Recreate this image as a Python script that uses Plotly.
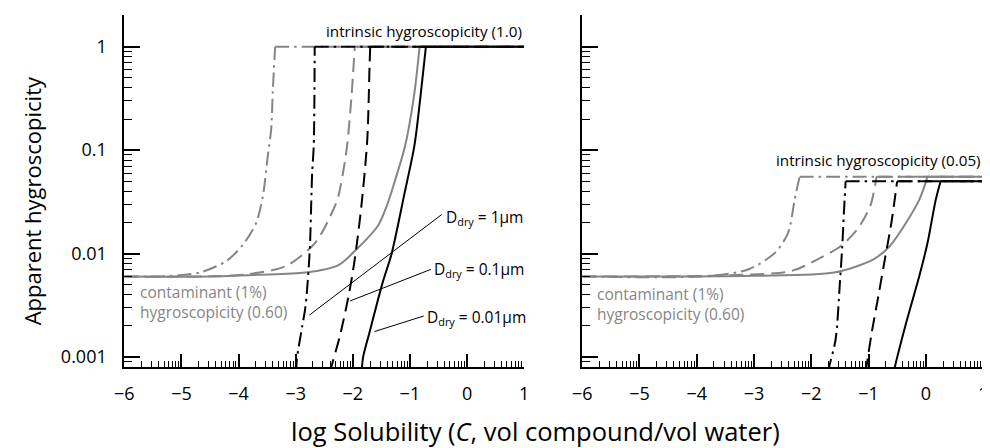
import plotly.graph_objects as go

# ---------------- DATA ----------------
# Left panel: intrinsic hygroscopicity 1.0
L_pure_1um_x = [-2.99, -2.98, -2.885, -2.828, -2.755, -2.712, -2.684, -2.667, 1.0]
L_pure_1um_y = [0.00071, 0.00095, 0.0020, 0.0031, 0.0105, 0.060, 0.110, 1.0, 1.0]
L_pure_01um_x = [-2.40, -2.38, -2.224, -2.063, -1.966, -1.85, -1.747, -1.707, -1.695, 1.0]
L_pure_01um_y = [0.00071, 0.00079, 0.00162, 0.0042, 0.0088, 0.0288, 0.126, 0.646, 1.0, 1.0]
L_pure_001um_x = [-1.845, -1.82, -1.707, -1.478, -1.32, -1.10, -0.92, -0.815, -0.72, 1.0]
L_pure_001um_y = [0.00071, 0.001, 0.00174, 0.00525, 0.01, 0.037, 0.112, 0.331, 1.0, 1.0]

L_cont_1um_x = [-6.0, -5.24, -4.67, -4.21, -3.92, -3.69, -3.575, -3.49, -3.43, -3.40, -3.36, 1.0]
L_cont_1um_y = [0.006, 0.00608, 0.0066, 0.00851, 0.0123, 0.02, 0.0359, 0.0871, 0.158, 0.383, 0.996, 0.996]
L_cont_01um_x = [-6.0, -4.5, -3.86, -3.17, -2.655, -2.34, -2.253, -2.109, -2.023, -1.966, 1.0]
L_cont_01um_y = [0.006, 0.00605, 0.00631, 0.00759, 0.0128, 0.0267, 0.0359, 0.101, 0.331, 0.996, 0.996]
L_cont_001um_x = [-6.0, -4.5, -3.69, -2.83, -2.25, -1.966, -1.563, -1.40, -1.276, -1.086, -0.93, -0.83, 1.0]
L_cont_001um_y = [0.006, 0.00603, 0.00624, 0.00656, 0.00776, 0.0106, 0.0185, 0.0295, 0.0479, 0.109, 0.331, 0.996, 0.996]

# Right panel: intrinsic hygroscopicity 0.05
R_pure_1um_x = [-1.70, -1.69, -1.575, -1.50, -1.459, -1.43, -1.40, 1.0]
R_pure_1um_y = [0.00071, 0.00079, 0.00148, 0.00525, 0.0117, 0.0248, 0.05, 0.05]
R_pure_01um_x = [-1.05, -1.03, -0.943, -0.828, -0.715, -0.60, -0.543, -0.50, 1.0]
R_pure_01um_y = [0.00071, 0.00085, 0.00174, 0.00389, 0.00881, 0.02, 0.0333, 0.05, 0.05]
R_pure_001um_x = [-0.56, -0.543, -0.341, -0.113, 0.032, 0.175, 0.26, 1.0]
R_pure_001um_y = [0.00071, 0.00079, 0.00216, 0.00608, 0.0128, 0.0333, 0.05, 0.05]

R_cont_1um_x = [-6.0, -3.78, -3.093, -2.634, -2.405, -2.29, -2.204, 1.0]
R_cont_1um_y = [0.006, 0.00608, 0.00706, 0.0102, 0.0159, 0.0333, 0.0555, 0.0555]
R_cont_01um_x = [-6.0, -3.5, -2.35, -1.89, -1.49, -1.20, -0.97, -0.86, 1.0]
R_cont_01um_y = [0.006, 0.00617, 0.00679, 0.00881, 0.0118, 0.0171, 0.0288, 0.0555, 0.0555]
R_cont_001um_x = [-6.0, -3.0, -1.60, -0.914, -0.63, -0.341, -0.113, -0.03, 0.03, 1.0]
R_cont_001um_y = [0.006, 0.0061, 0.00656, 0.00881, 0.0118, 0.02, 0.0333, 0.0437, 0.0555, 0.0555]

x_tick_vals = [-6, -5, -4, -3, -2, -1, 0, 1]
y_tick_vals = [0.001, 0.01, 0.1, 1]
y_tick_text = ["0.001", "0.01", "0.1", "1"]

# ---------------- FIGURE ----------------
FONT = "Open Sans"
GRAY = "#858585"
DASH = "14px,7px"
DASHDOT = "14px,5px,2.5px,5px"

# the page body has an 8px margin: size the figure so it fits the 990x448 window
OFF = 8
W, H = 990 - OFF, 448 - OFF
def P(px):  # page pixel x -> paper fraction
    return (px - OFF) / W
def Q(py):  # page pixel y -> paper fraction
    return 1 - (py - OFF) / H

fig = go.Figure()

def add(x, y, color, dash, xa, ya):
    # rising part drawn smooth, plateau drawn straight
    top = max(y)
    k = y.index(top)
    fig.add_trace(go.Scatter(x=x[:k + 1], y=y[:k + 1], mode="lines", xaxis=xa, yaxis=ya,
                             line=dict(color=color, width=2, dash=dash, shape="spline", smoothing=0.8),
                             showlegend=False, hoverinfo="skip"))
    fig.add_trace(go.Scatter(x=x[k:], y=y[k:], mode="lines", xaxis=xa, yaxis=ya,
                             line=dict(color=color, width=2, dash=dash),
                             showlegend=False, hoverinfo="skip"))

# gray (with contaminant) first, black (pure) on top
add(L_cont_1um_x, L_cont_1um_y, GRAY, DASHDOT, "x", "y")
add(L_cont_01um_x, L_cont_01um_y, GRAY, DASH, "x", "y")
add(L_cont_001um_x, L_cont_001um_y, GRAY, "solid", "x", "y")
add(L_pure_1um_x, L_pure_1um_y, "black", DASHDOT, "x", "y")
add(L_pure_01um_x, L_pure_01um_y, "black", DASH, "x", "y")
add(L_pure_001um_x, L_pure_001um_y, "black", "solid", "x", "y")

add(R_cont_1um_x, R_cont_1um_y, GRAY, DASHDOT, "x2", "y2")
add(R_cont_01um_x, R_cont_01um_y, GRAY, DASH, "x2", "y2")
add(R_cont_001um_x, R_cont_001um_y, GRAY, "solid", "x2", "y2")
add(R_pure_1um_x, R_pure_1um_y, "black", DASHDOT, "x2", "y2")
add(R_pure_01um_x, R_pure_01um_y, "black", DASH, "x2", "y2")
add(R_pure_001um_x, R_pure_001um_y, "black", "solid", "x2", "y2")

x_minor = [v + m for v in range(-6, 1) for m in (0.30103, 0.47712, 0.60206, 0.69897, 0.77815, 0.84510, 0.90309, 0.95424)]
y_minor = [k * 10.0 ** e for e in range(-4, 1) for k in range(2, 10)]

def xaxis_cfg(dom, anchor):
    return dict(domain=dom, anchor=anchor, range=[-6, 1], tickmode="array", tickvals=x_tick_vals,
                ticks="inside", ticklen=13, tickwidth=1.6, tickcolor="black",
                showline=True, linewidth=2, linecolor="black", zeroline=False, showgrid=False,
                ticklabelstandoff=9, tickfont=dict(family=FONT, size=18, color="black"),
                minor=dict(tickmode="array", tickvals=x_minor, ticks="inside", ticklen=6,
                           tickwidth=1.4, tickcolor="black", showgrid=False))

def yaxis_cfg(anchor, labels):
    return dict(domain=[Q(368), Q(15.5)], anchor=anchor, type="log",
                range=[-3.097, 0.3015], tickmode="array", tickvals=y_tick_vals, ticktext=y_tick_text,
                showticklabels=labels, ticks="inside", ticklen=16, tickwidth=1.6, tickcolor="black",
                showline=True, linewidth=2, linecolor="black", zeroline=False, showgrid=False,
                ticklabelstandoff=12, tickfont=dict(family=FONT, size=18, color="black"),
                minor=dict(tickmode="array", tickvals=y_minor, ticks="inside", ticklen=8,
                           tickwidth=1.4, tickcolor="black", showgrid=False))

fig.update_layout(
    width=W, height=H, margin=dict(l=0, r=0, t=0, b=0),
    paper_bgcolor="white", plot_bgcolor="white",
    font=dict(family=FONT, color="black"),
    xaxis=xaxis_cfg([P(116), P(522)], "y"),
    yaxis=yaxis_cfg("x", True),
    xaxis2=xaxis_cfg([P(581), P(988)], "y2"),
    yaxis2=yaxis_cfg("x2", False),
)

ann = []
# axis titles
ann.append(dict(text="log Solubility (<i>C</i>, vol compound/vol water)", xref="paper", yref="paper",
                x=P(534), y=Q(432), xanchor="center", yanchor="middle", showarrow=False,
                font=dict(family=FONT, size=25.5, color="black")))
ann.append(dict(text="Apparent hygroscopicity", xref="paper", yref="paper", textangle=-90,
                x=P(22), y=Q(201), xanchor="center", yanchor="middle", showarrow=False,
                font=dict(family=FONT, size=22, color="black")))
# panel labels
ann.append(dict(text="intrinsic hygroscopicity (1.0)", xref="paper", yref="paper", x=P(522), y=Q(31),
                xanchor="right", yanchor="middle", showarrow=False, font=dict(family=FONT, size=15.2)))
ann.append(dict(text="intrinsic hygroscopicity (0.05)", xref="paper", yref="paper", x=P(988), y=Q(160),
                xanchor="right", yanchor="middle", showarrow=False, font=dict(family=FONT, size=15.2)))
for x0, ya, yb in ((130, 293, 312.5), (594, 295, 315)):
    ann.append(dict(text="contaminant (1%)", xref="paper", yref="paper", x=P(x0), y=Q(ya),
                    xanchor="left", yanchor="middle", showarrow=False,
                    font=dict(family=FONT, size=15.5, color=GRAY)))
    ann.append(dict(text="hygroscopicity (0.60)", xref="paper", yref="paper", x=P(x0), y=Q(yb),
                    xanchor="left", yanchor="middle", showarrow=False,
                    font=dict(family=FONT, size=15.5, color=GRAY)))
# D_dry labels
for txt, x0, y0 in (("D<sub>dry</sub> = 1μm", 441, 218),
                    ("D<sub>dry</sub> = 0.1μm", 428, 270),
                    ("D<sub>dry</sub> = 0.01μm", 421, 318)):
    ann.append(dict(text=txt, xref="paper", yref="paper", x=P(x0), y=Q(y0), xanchor="left",
                    yanchor="middle", showarrow=False, font=dict(family=FONT, size=15.5, color="black")))
fig.update_layout(annotations=ann)

# leader lines from the D_dry labels to their curves
for (hx, hy, tx, ty) in ((304, 315.7, 438.3, 215), (345, 301.7, 427.3, 270), (370, 332.3, 420, 316.7)):
    fig.add_shape(type="line", xref="paper", yref="paper", x0=P(hx), y0=Q(hy), x1=P(tx), y1=Q(ty),
                  line=dict(color="black", width=1))

fig.write_html("out.html")
